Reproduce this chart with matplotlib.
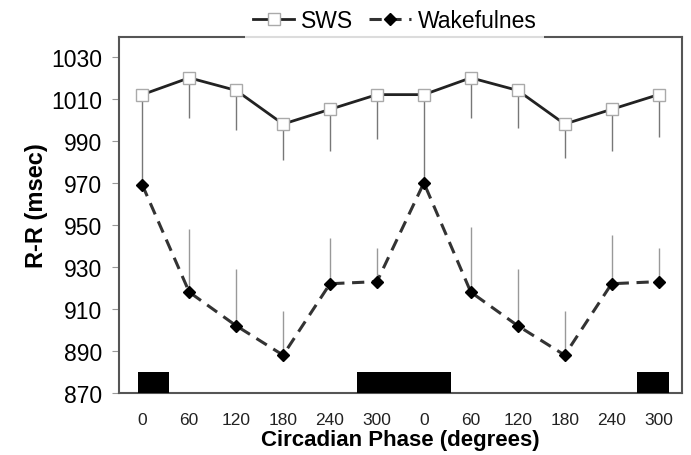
import matplotlib.pyplot as plt

# circadian phase labels (two cycles)
phase_labels = ['0', '60', '120', '180', '240', '300', '0', '60', '120', '180', '240', '300']

# slow wave sleep R-R (msec) and lower error
sws = [1012, 1020, 1014, 998, 1005, 1012, 1012, 1020, 1014, 998, 1005, 1012]
sws_err = [42, 19, 19, 17, 20, 21, 42, 19, 18, 16, 20, 20]

# wakefulness R-R (msec) and upper error
wake = [969, 918, 902, 888, 922, 923, 970, 918, 902, 888, 922, 923]
wake_err = [0, 30, 27, 21, 22, 16, 0, 31, 27, 21, 23, 16]

# dark periods (in phase-index units)
dark_start = [-0.1, 4.57, 10.55]
dark_end = [0.57, 6.57, 11.23]

plt.rcParams['font.family'] = ['Liberation Sans', 'DejaVu Sans']

fig = plt.figure(figsize=(6.91, 4.56), dpi=100)
ax = fig.add_axes([0.172, 0.136, 0.815, 0.781])

x = list(range(len(phase_labels)))

# error bars (one-sided)
ax.errorbar(x, sws, yerr=[sws_err, [0] * len(sws)], fmt='none',
            ecolor='#777777', elinewidth=1.0, capsize=0, zorder=2)
ax.errorbar(x, wake, yerr=[[0] * len(wake), wake_err], fmt='none',
            ecolor='#999999', elinewidth=1.0, capsize=0, zorder=2)

# series
ax.plot(x, sws, color='#222222', linewidth=2.0, marker='s', markersize=8,
        markerfacecolor='white', markeredgecolor='#aaaaaa', markeredgewidth=1.0,
        label='SWS', zorder=3)
ax.plot(x, wake, color='#333333', linewidth=2.2, linestyle=(0, (4, 2.5)),
        marker='D', markersize=6.5, markerfacecolor='black', markeredgecolor='black',
        label='Wakefulnes', zorder=3)

# dark-phase bars along the bottom
widths = [e - s for s, e in zip(dark_start, dark_end)]
ax.bar(dark_start, [10] * len(dark_start), width=widths, bottom=870,
       align='edge', color='black', zorder=4)

ax.set_xlim(-0.5, 11.5)
ax.set_ylim(870, 1039.5)
ax.set_yticks(range(870, 1031, 20))
ax.set_xticks(x)
ax.set_xticklabels(phase_labels)
ax.tick_params(axis='y', labelsize=16.5, length=5, color='#999999', pad=7)
ax.tick_params(axis='x', labelsize=12.5, length=0, pad=14, colors='#222222')

for sp in ax.spines.values():
    sp.set_color('#555555')
    sp.set_linewidth(1.5)

ax.set_ylabel('R-R (msec)', fontsize=17, fontweight='bold')
ax.yaxis.set_label_coords(-0.125, 0.53)
ax.set_xlabel('Circadian Phase (degrees)', fontsize=16, fontweight='bold', labelpad=1)

leg = ax.legend(loc='center', bbox_to_anchor=(0.49, 1.045), ncol=2, frameon=True,
                fontsize=16.5, handlelength=1.8, columnspacing=0.7, handletextpad=0.3,
                borderpad=0.35, fancybox=False)
leg.get_frame().set_facecolor('white')
leg.get_frame().set_edgecolor('none')
leg.set_zorder(10)

fig.savefig('out.png', dpi=100, facecolor='white')
